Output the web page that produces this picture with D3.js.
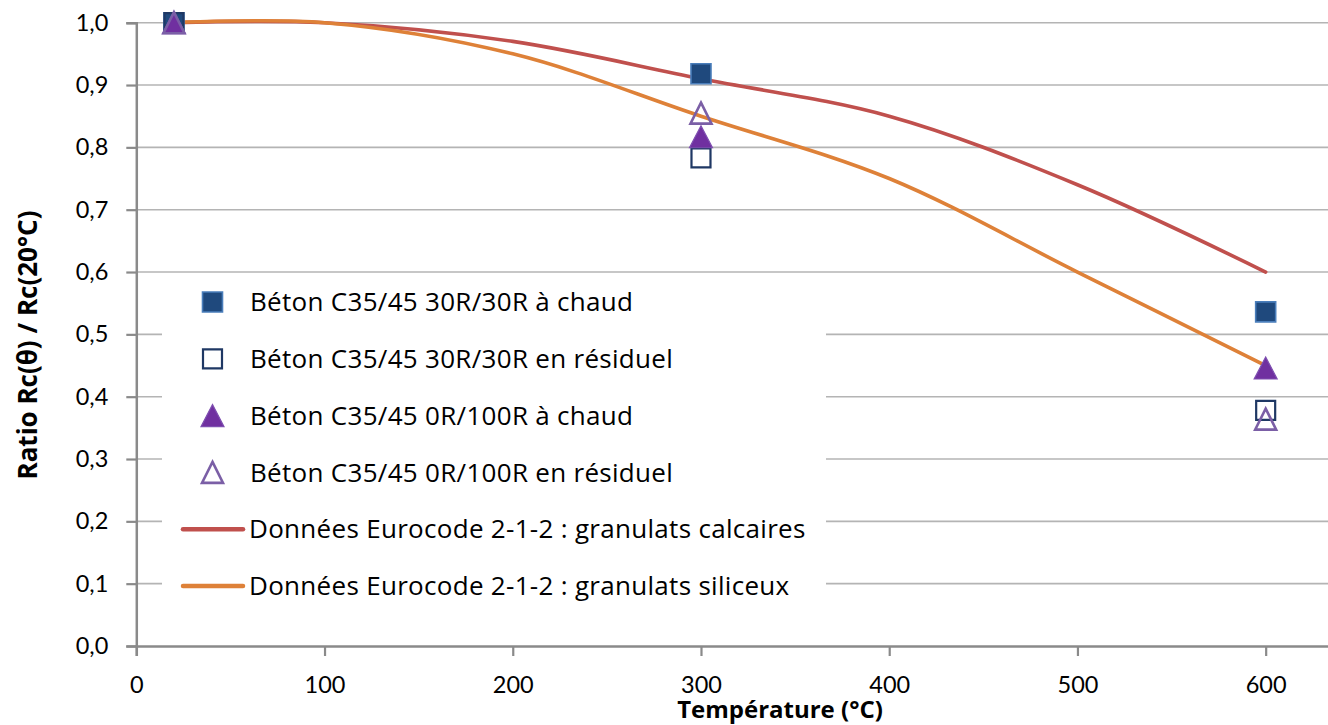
<!DOCTYPE html>
<html>
<head>
<meta charset="utf-8">
<script src="https://cdn.jsdelivr.net/npm/d3@7"></script>
<style>
  html, body { margin: 0; padding: 0; background: #fff; }
  svg { display: block; }
</style>
</head>
<body>
<svg id="chart" width="1328" height="725"></svg>
<script>
// Eurocode 2-1-2 reduction curves
const curveTemps = [20, 100, 200, 300, 400, 500, 600];
const calcaires  = [1.00, 1.00, 0.97, 0.91, 0.85, 0.74, 0.60];
const siliceux   = [1.00, 1.00, 0.95, 0.85, 0.75, 0.60, 0.45];

// Test results
const testTemps  = [20, 300, 600];
const chaud30    = [1.00, 0.918, 0.536];
const residuel30 = [1.00, 0.783, 0.378];
const chaud0     = [1.00, 0.817, 0.446];
const residuel0  = [1.00, 0.855, 0.364];

const xTicks = [0, 100, 200, 300, 400, 500, 600];
const yTicks = [0, 0.1, 0.2, 0.3, 0.4, 0.5, 0.6, 0.7, 0.8, 0.9, 1.0];

const legendLabels = [
  "Béton C35/45 30R/30R à chaud",
  "Béton C35/45 30R/30R en résiduel",
  "Béton C35/45 0R/100R à chaud",
  "Béton C35/45 0R/100R en résiduel",
  "Données Eurocode 2-1-2 : granulats calcaires",
  "Données Eurocode 2-1-2 : granulats siliceux"
];

const svg = d3.select("#chart");

const x = d3.scaleLinear().domain([0, 700]).range([136.3, 1453.9]);
const y = d3.scaleLinear().domain([0, 1]).range([646, 22.7]);

const gridColor = "#b4b4b4";
const axisColor = "#8a8a8a";
const sans = "'Open Sans', 'Noto Sans', sans-serif";
const tickFont = "Lato, 'Open Sans', sans-serif";

// horizontal gridlines
svg.append("g").selectAll("line").data(yTicks.slice(1)).join("line")
  .attr("x1", x(0)).attr("x2", x(700))
  .attr("y1", d => y(d)).attr("y2", d => y(d))
  .attr("stroke", gridColor).attr("stroke-width", 1.6);

// y axis
const yAxis = svg.append("g").attr("transform", `translate(${x(0)},0)`)
  .call(d3.axisLeft(y).tickValues(yTicks).tickSize(10).tickPadding(18)
    .tickFormat(d => d3.format(".1f")(d).replace(".", ",")));
yAxis.select(".domain").attr("stroke", axisColor).attr("stroke-width", 2.5);
yAxis.selectAll(".tick line").attr("stroke", axisColor).attr("stroke-width", 2.2);
yAxis.selectAll(".tick text").attr("fill", "#000")
  .style("font-family", tickFont).style("font-size", "23.5px");

// x axis
const xAxis = svg.append("g").attr("transform", `translate(0,${y(0)})`)
  .call(d3.axisBottom(x).tickValues(xTicks).tickSize(10).tickPadding(20)
    .tickFormat(d3.format("d")));
xAxis.select(".domain").attr("stroke", axisColor).attr("stroke-width", 2.5);
xAxis.selectAll(".tick line").attr("stroke", axisColor).attr("stroke-width", 2.2);
xAxis.selectAll(".tick text").attr("fill", "#000")
  .style("font-family", tickFont).style("font-size", "23.5px");

// axis titles
svg.append("text")
  .attr("x", 780).attr("y", 718)
  .attr("text-anchor", "middle")
  .attr("fill", "#000")
  .style("font-family", sans).style("font-size", "24px").style("font-weight", "bold")
  .text("Température (°C)");

svg.append("text")
  .attr("transform", "translate(37,345) rotate(-90)")
  .attr("text-anchor", "middle")
  .attr("fill", "#000")
  .style("font-family", sans).style("font-size", "26px").style("font-weight", "bold")
  .text("Ratio Rc(θ) / Rc(20°C)");

// Eurocode curves
const line = d3.line()
  .x(d => x(d[0])).y(d => y(d[1]))
  .curve(d3.curveCatmullRom.alpha(0.5));

const curves = [
  { values: calcaires, color: "#C0504D" },
  { values: siliceux,  color: "#DE8138" }
];
svg.append("g").selectAll("path").data(curves).join("path")
  .attr("d", c => line(curveTemps.map((t, i) => [t, c.values[i]])))
  .attr("fill", "none")
  .attr("stroke", c => c.color)
  .attr("stroke-width", 3.6)
  .attr("stroke-linecap", "round");

// marker shapes
function squarePath(s) {
  const h = s / 2;
  return `M${-h},${-h}H${h}V${h}H${-h}Z`;
}
function trianglePath(w, h) {
  return `M0,${-h / 2}L${w / 2},${h / 2}L${-w / 2},${h / 2}Z`;
}

const series = [
  { values: chaud30,    d: squarePath(20),        fill: "#1F497D", stroke: "#4A7EBB", sw: 1.6 },
  { values: residuel30, d: squarePath(19),        fill: "none",    stroke: "#1F3864", sw: 2.2 },
  { values: chaud0,     d: trianglePath(23, 22),  fill: "#7030A0", stroke: "#7E4FB0", sw: 1.2 },
  { values: residuel0,  d: trianglePath(21, 21),  fill: "none",    stroke: "#7B5FA6", sw: 2.6 }
];

series.forEach(s => {
  svg.append("g").selectAll("path")
    .data(testTemps.map((t, i) => [t, s.values[i]]))
    .join("path")
    .attr("transform", d => `translate(${x(d[0])},${y(d[1])})`)
    .attr("d", s.d)
    .attr("fill", s.fill)
    .attr("stroke", s.stroke)
    .attr("stroke-width", s.sw)
    .attr("stroke-linejoin", "miter");
});

// legend
const legend = svg.append("g");
legend.append("rect")
  .attr("x", 162).attr("y", 276).attr("width", 664).attr("height", 336)
  .attr("fill", "#fff");

const rowY = i => 302 + i * 56.8;

series.forEach((s, i) => {
  legend.append("path")
    .attr("transform", `translate(212.5,${rowY(i)})`)
    .attr("d", s.d)
    .attr("fill", s.fill)
    .attr("stroke", s.stroke)
    .attr("stroke-width", s.sw);
});
curves.forEach((c, j) => {
  legend.append("line")
    .attr("x1", 183).attr("x2", 243)
    .attr("y1", rowY(4 + j)).attr("y2", rowY(4 + j))
    .attr("stroke", c.color).attr("stroke-width", 4.5)
    .attr("stroke-linecap", "round");
});
legend.selectAll("text").data(legendLabels).join("text")
  .attr("x", (d, i) => i < 4 ? 250 : 249)
  .attr("y", (d, i) => rowY(i))
  .attr("dy", "0.35em")
  .attr("fill", "#000")
  .style("font-family", sans).style("font-size", "26px")
  .style("letter-spacing", "0.3px")
  .text(d => d);
</script>
</body>
</html>
